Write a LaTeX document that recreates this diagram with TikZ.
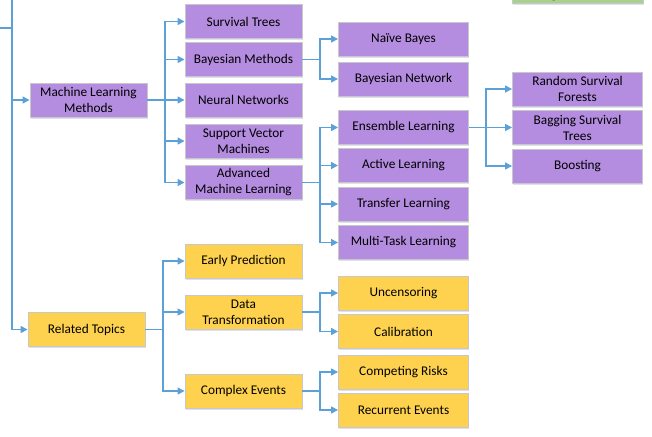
\documentclass[tikz,border=0pt]{standalone}
\usepackage{fontspec}
\setmainfont{Carlito}
\usetikzlibrary{arrows.meta,shadows}
\definecolor{purp}{HTML}{B48CE0}
\definecolor{yel}{HTML}{FED24F}
\definecolor{grn}{HTML}{A9D18E}
\definecolor{lnblue}{HTML}{5BA0D6}
\definecolor{bord}{HTML}{C8C8C8}
\tikzset{
  boxbase/.style={draw=bord, line width=0.9pt, align=center, inner sep=1pt,
    font=\fontsize{13.3}{16}\selectfont, text=black,
    drop shadow={opacity=0.18, shadow xshift=0.6pt, shadow yshift=-1.6pt, fill=blue!40!gray}},
  pbox/.style={boxbase, fill=purp},
  ybox/.style={boxbase, fill=yel},
  wA/.style={minimum width=117pt, minimum height=34pt},
  wB/.style={minimum width=130pt, minimum height=34pt},
  conn/.style={draw=lnblue, line width=1.5pt},
  arr/.style={conn, -{Triangle[length=7pt,width=7pt]}},
}
\begin{document}
\begin{tikzpicture}[x=1pt,y=-1pt]
\useasboundingbox (0,0) rectangle (652,436);
% top-right green box (partially visible)
\begin{scope}
\clip (0,0) rectangle (652,436);
\node[boxbase, fill=grn, minimum width=131pt, minimum height=34pt, anchor=south west] (grn) at (511.5,3.5) {};
\node[font=\fontsize{13.3}{16}\selectfont, inner sep=0pt, anchor=base] (gtext) at (554,-1.5) {g};
\end{scope}

% left spine
\coordinate (spt) at (12,0);
\coordinate (hl) at (0,28);
\coordinate (sp2) at (12,28);

% level 1
\node[pbox, wA] (mlm) at (88.5,100) {Machine Learning\\Methods};
\node[ybox, wA] (rt) at (86.5,329.5) {Related Topics};

% level 2 ML
\node[pbox, wA] (st) at (243.5,21.5) {Survival Trees};
\node[pbox, wA] (bm) at (243.5,59.5) {Bayesian Methods};
\node[pbox, wA] (nn) at (243.5,100) {Neural Networks};
\node[pbox, wA] (svm) at (243.5,141) {Support Vector\\Machines};
\node[pbox, wA] (aml) at (243.5,182.5) {Advanced\\Machine Learning};

% level 3 ML
\node[pbox, wB] (nb) at (403.5,39) {Naïve Bayes};
\node[pbox, wB] (bn) at (403.5,79) {Bayesian Network};
\node[pbox, wB] (el) at (403.5,127.5) {Ensemble Learning};
\node[pbox, wB] (al) at (403.5,165.5) {Active Learning};
\node[pbox, wB] (tl) at (403.5,204) {Transfer Learning};
\node[pbox, wB] (mtl) at (403.5,242.5) {Multi-Task Learning};

% level 4
\node[pbox, wB] (rsf) at (577.5,89) {Random Survival\\Forests};
\node[pbox, wB] (bst) at (577.5,127.5) {Bagging Survival\\Trees};
\node[pbox, wB] (boo) at (577.5,166) {Boosting};

% level 2 RT
\node[ybox, wA] (ep) at (243.5,261) {Early Prediction};
\node[ybox, wA] (dt) at (243.5,312) {Data\\Transformation};
\node[ybox, wA] (ce) at (243.5,391) {Complex Events};

% level 3 RT
\node[ybox, wB] (unc) at (403.5,293) {Uncensoring};
\node[ybox, wB] (cal) at (403.5,331.5) {Calibration};
\node[ybox, wB] (cr) at (403.5,372) {Competing Risks};
\node[ybox, wB] (re) at (403.5,410) {Recurrent Events};

% branch x positions
\coordinate (bx1) at (165,0);
\coordinate (bx2) at (320,0);
\coordinate (bx3) at (486,0);
\coordinate (bx4) at (163,0);

% spine
\draw[conn] (spt) -- (spt |- rt.west);
\draw[conn] (hl) -- (sp2);
\draw[arr] (spt |- mlm.west) -- (mlm.west);
\draw[arr] (spt |- rt.west) -- (rt.west);

% ML -> level 2
\draw[conn] (mlm.east) -- (bx1 |- mlm.east);
\foreach \t in {st,bm,nn,svm,aml}
  \draw[arr] (bx1 |- mlm.east) |- (\t.west);

% Bayesian
\draw[conn] (bm.east) -- (bx2 |- bm.east);
\foreach \t in {nb,bn}
  \draw[arr] (bx2 |- bm.east) |- (\t.west);

% Advanced
\draw[conn] (aml.east) -- (bx2 |- aml.east);
\foreach \t in {el,al,tl,mtl}
  \draw[arr] (bx2 |- aml.east) |- (\t.west);

% Ensemble
\draw[conn] (el.east) -- (bx3 |- el.east);
\foreach \t in {rsf,bst,boo}
  \draw[arr] (bx3 |- el.east) |- (\t.west);

% Related topics
\draw[conn] (rt.east) -- (bx4 |- rt.east);
\foreach \t in {ep,dt,ce}
  \draw[arr] (bx4 |- rt.east) |- (\t.west);

\draw[conn] (dt.east) -- (bx2 |- dt.east);
\foreach \t in {unc,cal}
  \draw[arr] (bx2 |- dt.east) |- (\t.west);

\draw[conn] (ce.east) -- (bx2 |- ce.east);
\foreach \t in {cr,re}
  \draw[arr] (bx2 |- ce.east) |- (\t.west);
\end{tikzpicture}
\end{document}
